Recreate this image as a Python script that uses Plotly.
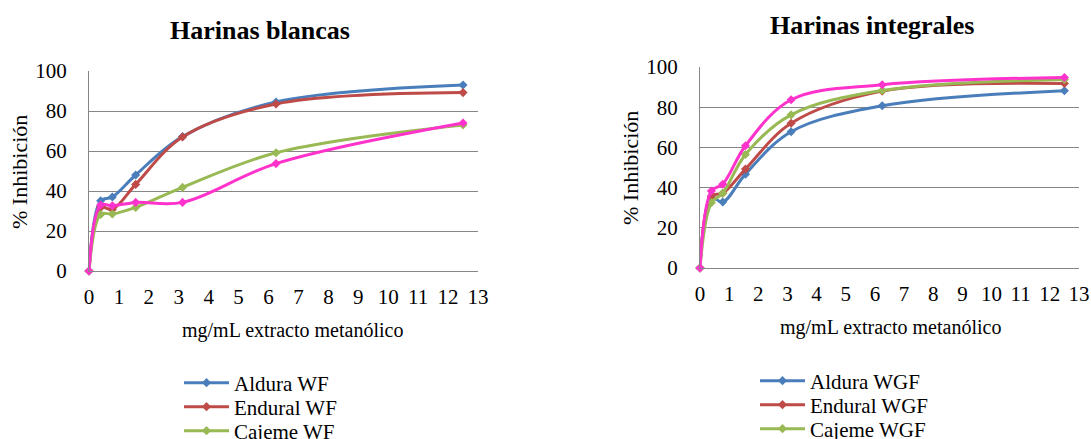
import plotly.graph_objects as go

# concentrations (mg/mL)
conc = [0, 0.39, 0.78, 1.56, 3.125, 6.25, 12.5]

# Harinas blancas (WF)
aldura_wf = [0, 35.1, 37.0, 48.0, 67.2, 84.5, 93.0]
endural_wf = [0, 31.8, 30.8, 43.3, 67.0, 83.5, 89.2]
cajeme_wf = [0, 28.3, 28.5, 31.8, 41.8, 59.1, 73.0]
pink_wf = [0, 33.0, 32.6, 34.3, 34.3, 53.7, 74.0]

# Harinas integrales (WGF)
aldura_wgf = [0, 35.0, 32.8, 46.7, 67.8, 80.7, 88.2]
endural_wgf = [0, 35.8, 37.2, 49.2, 72.0, 88.0, 91.8]
cajeme_wgf = [0, 32.5, 37.2, 56.5, 76.2, 88.3, 93.8]
pink_wgf = [0, 38.3, 41.7, 60.8, 83.7, 91.2, 94.8]

names_wf = ["Aldura WF", "Endural WF", "Cajeme WF", ""]
names_wgf = ["Aldura WGF", "Endural WGF", "Cajeme WGF", ""]
colors = ["#4A7EBB", "#BE4B48", "#98B954", "#FF33CC"]

W, H = 1091, 439
FONT = "Liberation Serif, Times New Roman, serif"

fig = go.Figure()

def add_series(values, names, xa, ya, legends):
    for i, (vals, name) in enumerate(zip(values, names)):
        show = name != ""
        fig.add_trace(go.Scatter(
            x=conc, y=vals, name=name, mode="lines+markers",
            line=dict(color=colors[i], width=3, shape="spline", smoothing=1.0),
            marker=dict(symbol="diamond", size=7, color=colors[i]),
            xaxis=xa, yaxis=ya, legend=legends[i] if show else "legend",
            showlegend=show, cliponaxis=False,
        ))

add_series([aldura_wf, endural_wf, cajeme_wf, pink_wf], names_wf, "x", "y",
           ["legend", "legend2", "legend3"])
add_series([aldura_wgf, endural_wgf, cajeme_wgf, pink_wgf], names_wgf, "x2", "y2",
           ["legend4", "legend5", "legend6"])

def px_x(p):
    return p / W

def px_y(p):
    return 1 - p / H

axis_common = dict(
    range=[0, 13], dtick=1, tick0=0, showgrid=False, automargin=False,
    showline=True, linecolor="#868686", linewidth=1,
    ticks="", tickfont=dict(family=FONT, size=21, color="black"),
    zeroline=False, ticklabelstandoff=7,
)
yaxis_common = dict(
    range=[0, 100], dtick=20, showgrid=True, gridcolor="#868686", gridwidth=1,
    showline=True, linecolor="#868686", linewidth=1, automargin=False,
    ticks="", tickfont=dict(family=FONT, size=21, color="black"),
    zeroline=False, ticklabelstandoff=17,
)

def ann(text, x, y, size, angle=0):
    return dict(text=text, x=px_x(x), y=px_y(y), xref="paper", yref="paper",
                xanchor="center", yanchor="middle", showarrow=False, textangle=angle,
                font=dict(family=FONT, size=size, color="black"))

def leg(x, y):
    return dict(x=px_x(x), y=px_y(y), xanchor="left", yanchor="middle",
                font=dict(family=FONT, size=21, color="black"),
                bgcolor="rgba(0,0,0,0)", itemwidth=45)

fig.update_layout(
    width=W, height=H,
    margin=dict(l=0, r=0, t=0, b=0, autoexpand=False),
    paper_bgcolor="white", plot_bgcolor="white",
    font=dict(family=FONT, color="black"),
    xaxis=dict(domain=[px_x(89), px_x(478)], anchor="y", **axis_common),
    yaxis=dict(domain=[px_y(271), px_y(71)], anchor="x", **yaxis_common),
    xaxis2=dict(domain=[px_x(700), px_x(1079)], anchor="y2", **axis_common),
    yaxis2=dict(domain=[px_y(268), px_y(67)], anchor="x2", **yaxis_common),
    legend=leg(179, 383),
    legend2=leg(179, 407),
    legend3=leg(179, 431),
    legend4=leg(755, 381),
    legend5=leg(755, 405),
    legend6=leg(755, 429),
    annotations=[
        ann("<b>Harinas blancas</b>", 260, 30, 26),
        ann("<b>Harinas integrales</b>", 872, 25, 26),
        ann("mg/mL extracto metanólico", 292, 330, 20),
        ann("mg/mL extracto metanólico", 890, 327, 20),
        ann("% Inhibición", 19, 172, 22, -90),
        ann("% Inhibición", 630, 168, 22, -90),
    ],
)

fig.write_html(
    "out.html",
    config={"displayModeBar": False},
    post_script="document.body.style.margin='0';document.body.style.overflow='hidden';",
)
